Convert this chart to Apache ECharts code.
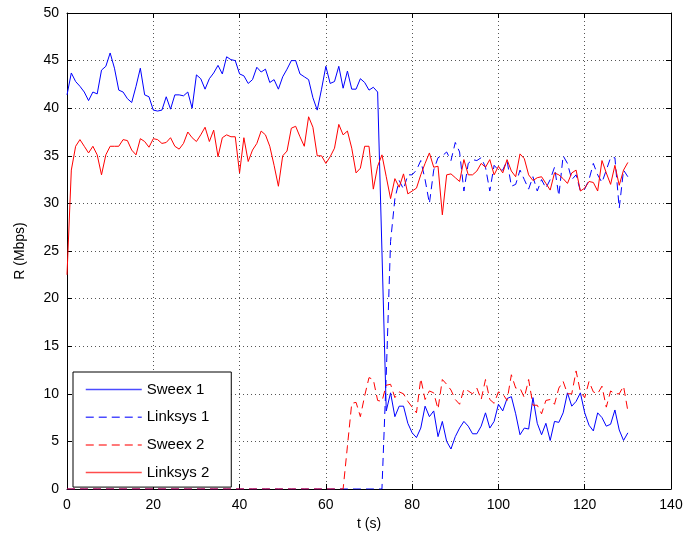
<!DOCTYPE html>
<html>
<head>
<meta charset="utf-8">
<script src="https://cdn.jsdelivr.net/npm/echarts@6/dist/echarts.min.js"></script>
<style>
  html, body { margin: 0; padding: 0; background: #fff; }
  #chart { width: 689px; height: 543px; }
</style>
</head>
<body>
<div id="chart"></div>
<script>
// time axis (s)
const times = [
  0, 1, 2, 3, 4, 5, 6, 7, 8, 9, 10, 11, 12, 13, 14, 15, 16, 17, 18, 19,
  20, 21, 22, 23, 24, 25, 26, 27, 28, 29, 30, 31, 32, 33, 34, 35, 36, 37, 38, 39,
  40, 41, 42, 43, 44, 45, 46, 47, 48, 49, 50, 51, 52, 53, 54, 55, 56, 57, 58, 59,
  60, 61, 62, 63, 64, 65, 66, 67, 68, 69, 70, 71, 72, 73, 74, 75, 76, 77, 78, 79,
  80, 81, 82, 83, 84, 85, 86, 87, 88, 89, 90, 91, 92, 93, 94, 95, 96, 97, 98, 99,
  100, 101, 102, 103, 104, 105, 106, 107, 108, 109, 110, 111, 112, 113, 114, 115, 116, 117, 118, 119,
  120, 121, 122, 123, 124, 125, 126, 127, 128, 129, 130
]

const sweex1 = [
  41.4, 43.7, 42.8, 42.3, 41.7, 40.8, 41.7, 41.5, 44.0, 44.4, 45.8, 44.2, 41.9, 41.7, 41.0, 40.6, 42.3, 44.2, 41.4, 41.2,
  39.8, 39.7, 39.8, 41.2, 39.9, 41.4, 41.4, 41.3, 41.7, 40.0, 43.5, 43.1, 42.0, 43.1, 43.7, 44.5, 43.6, 45.4, 45.1, 45.0,
  43.6, 43.4, 42.6, 43.0, 44.3, 43.8, 44.1, 42.7, 43.0, 42.0, 43.3, 44.1, 45.0, 45.0, 43.6, 43.3, 43.0, 41.1, 39.8, 42.0,
  44.4, 42.6, 42.8, 44.4, 42.1, 43.9, 42.0, 42.0, 43.1, 42.7, 41.9, 42.2, 41.7, 25.0, 8.2, 10.1, 7.6, 8.7, 8.7, 6.9,
  5.9, 5.4, 6.4, 8.7, 7.6, 8.2, 5.5, 7.1, 5.0, 4.2, 5.5, 6.4, 7.1, 6.6, 5.8, 5.8, 6.6, 8.0, 6.4, 7.1,
  8.9, 8.2, 9.5, 9.7, 7.9, 5.7, 6.4, 6.3, 9.6, 6.9, 5.7, 6.9, 5.1, 7.1, 7.0, 8.0, 10.1, 8.7, 9.2, 10.1,
  8.0, 6.7, 6.1, 8.0, 7.5, 6.6, 6.8, 8.3, 6.2, 5.1, 5.9
]

const linksys1 = [
  0, 0, 0, 0, 0, 0, 0, 0, 0, 0, 0, 0, 0, 0, 0, 0, 0, 0, 0, 0,
  0, 0, 0, 0, 0, 0, 0, 0, 0, 0, 0, 0, 0, 0, 0, 0, 0, 0, 0, 0,
  0, 0, 0, 0, 0, 0, 0, 0, 0, 0, 0, 0, 0, 0, 0, 0, 0, 0, 0, 0,
  0, 0, 0, 0, 0, 0, 0, 0, 0, 0, 0, 0, 0, 0, 12.0, 26.0, 30.5, 32.4, 31.5, 33.0,
  33.0, 33.5, 34.5, 32.5, 30.0, 33.5, 34.8, 35.0, 35.4, 34.5, 36.4, 35.4, 31.3, 34.2, 34.6, 34.5, 34.8, 33.8, 31.3, 34.0,
  33.5, 33.5, 34.5, 31.8, 32.0, 33.5, 32.5, 31.5, 32.8, 31.3, 32.5, 31.6, 32.5, 33.8, 30.8, 35.0, 34.2, 32.5, 33.0, 31.3,
  31.5, 32.5, 34.2, 33.0, 32.2, 33.5, 34.8, 34.8, 29.5, 33.5, 32.8
]

const sweex2 = [
  0, 0, 0, 0, 0, 0, 0, 0, 0, 0, 0, 0, 0, 0, 0, 0, 0, 0, 0, 0,
  0, 0, 0, 0, 0, 0, 0, 0, 0, 0, 0, 0, 0, 0, 0, 0, 0, 0, 0, 0,
  0, 0, 0, 0, 0, 0, 0, 0, 0, 0, 0, 0, 0, 0, 0, 0, 0, 0, 0, 0,
  0, 0, 0, 0, 0, 4.5, 9.0, 9.1, 7.6, 9.8, 11.7, 11.5, 9.3, 9.2, 10.9, 11.0, 9.6, 10.2, 10.0, 9.2,
  8.6, 8.0, 11.6, 9.4, 10.3, 10.1, 8.4, 11.5, 11.0, 10.4, 9.4, 8.9, 10.5, 10.3, 10.0, 10.6, 9.4, 11.5, 9.4, 9.0,
  10.2, 10.0, 9.3, 12.0, 10.6, 10.6, 9.6, 11.5, 8.8, 8.8, 7.9, 9.3, 9.4, 8.9, 10.6, 11.3, 10.0, 10.0, 12.4, 10.2,
  9.6, 11.3, 10.2, 10.0, 10.8, 8.6, 10.3, 10.0, 10.0, 10.8, 8.2
]

const linksys2 = [
  22.5, 33.5, 36.0, 36.7, 36.0, 35.3, 36.0, 35.1, 33.0, 35.1, 36.0, 36.0, 36.0, 36.7, 36.6, 35.6, 35.1, 36.8, 36.5, 35.9,
  36.8, 36.7, 36.3, 36.4, 36.9, 36.0, 35.7, 36.3, 37.5, 36.9, 36.5, 37.2, 38.0, 36.5, 37.7, 34.9, 36.9, 37.2, 37.0, 37.0,
  33.2, 36.9, 34.4, 35.6, 36.3, 37.6, 37.2, 36.0, 34.0, 31.8, 35.0, 35.5, 37.9, 38.1, 37.0, 36.0, 39.1, 38.0, 35.0, 35.0,
  34.2, 34.9, 35.8, 38.3, 37.2, 37.6, 35.8, 33.2, 33.7, 36.0, 36.0, 31.5, 33.9, 35.1, 32.8, 30.5, 32.6, 31.7, 33.1, 31.0,
  31.3, 31.6, 33.0, 34.2, 35.3, 33.8, 33.9, 28.8, 33.0, 33.1, 32.7, 32.3, 34.6, 33.0, 33.0, 33.4, 34.2, 33.8, 34.6, 33.0,
  33.9, 33.2, 34.6, 33.4, 32.8, 35.2, 34.7, 33.0, 32.4, 32.7, 32.8, 32.1, 31.4, 33.2, 33.0, 32.6, 32.1, 33.2, 33.5, 31.3,
  31.6, 32.3, 32.2, 31.3, 34.5, 33.2, 32.0, 34.0, 31.9, 33.5, 34.3
]

const seriesNames = ['Sweex 1', 'Linksys 1', 'Sweex 2', 'Linksys 2']
const seriesColors = ['#0000ff', '#0000ff', '#ff0000', '#ff0000']
const seriesDashed = [false, true, true, false]
const seriesValues = [sweex1, linksys1, sweex2, linksys2]

function pairs(values) {
  return values.map((v, i) => [times[i], v])
}

function lineStyleOf(i) {
  return {
    color: seriesColors[i],
    width: 1,
    type: seriesDashed[i] ? [8, 5] : 'solid'
  }
}

const chart = echarts.init(document.getElementById('chart'))

const fontFamily = 'Liberation Sans, Arial, sans-serif'
const gridDots = { color: '#555', width: 1, type: [1, 3] }

// axis shared by bottom/top and left/right (MATLAB style box)
function axisBase(extra) {
  return Object.assign({
    type: 'value',
    axisLine: { show: true, onZero: false, lineStyle: { color: '#000', width: 1 } },
    axisTick: { show: true, inside: true, length: 5, lineStyle: { color: '#000' } },
    splitLine: { show: false },
    axisLabel: { show: false }
  }, extra)
}

chart.setOption({
  animation: false,
  backgroundColor: '#fff',
  grid: { left: 67, right: 18, top: 13, bottom: 54 },
  legend: {
    orient: 'vertical',
    left: 73,
    top: 372,
    padding: [10, 22, 7, 12],
    itemWidth: 56,
    itemHeight: 14,
    itemGap: 12.7,
    backgroundColor: '#fff',
    borderColor: '#000',
    borderWidth: 1,
    // hide the marker the line legend icon adds, keep only the line
    itemStyle: { opacity: 0 },
    textStyle: { fontSize: 15, color: '#000', fontFamily: fontFamily },
    data: seriesNames.map((name, i) => ({
      name: name,
      lineStyle: Object.assign(lineStyleOf(i), { width: 1.5, opacity: 0.7 })
    }))
  },
  xAxis: [
    axisBase({
      min: 0, max: 140, interval: 20,
      position: 'bottom',
      name: 't (s)',
      nameLocation: 'middle',
      nameGap: 27,
      nameTextStyle: { fontSize: 14, color: '#000', fontFamily: fontFamily },
      axisLabel: { show: true, margin: 9, fontSize: 14, color: '#000', fontFamily: fontFamily },
      splitLine: { show: true, lineStyle: gridDots }
    }),
    axisBase({ min: 0, max: 140, interval: 20, position: 'top' })
  ],
  yAxis: [
    axisBase({
      min: 0, max: 50, interval: 5,
      position: 'left',
      name: 'R (Mbps)',
      nameLocation: 'middle',
      nameGap: 40,
      nameTextStyle: { fontSize: 14, color: '#000', fontFamily: fontFamily },
      axisLabel: { show: true, margin: 8, fontSize: 14, color: '#000', fontFamily: fontFamily },
      splitLine: { show: true, lineStyle: gridDots }
    }),
    axisBase({ min: 0, max: 50, interval: 5, position: 'right' })
  ],
  series: seriesNames.map((name, i) => ({
    name: name,
    type: 'line',
    data: pairs(seriesValues[i]),
    symbol: 'none',
    showSymbol: false,
    color: seriesColors[i],
    lineStyle: lineStyleOf(i),
    z: 2 + i
  }))
})
</script>
</body>
</html>
